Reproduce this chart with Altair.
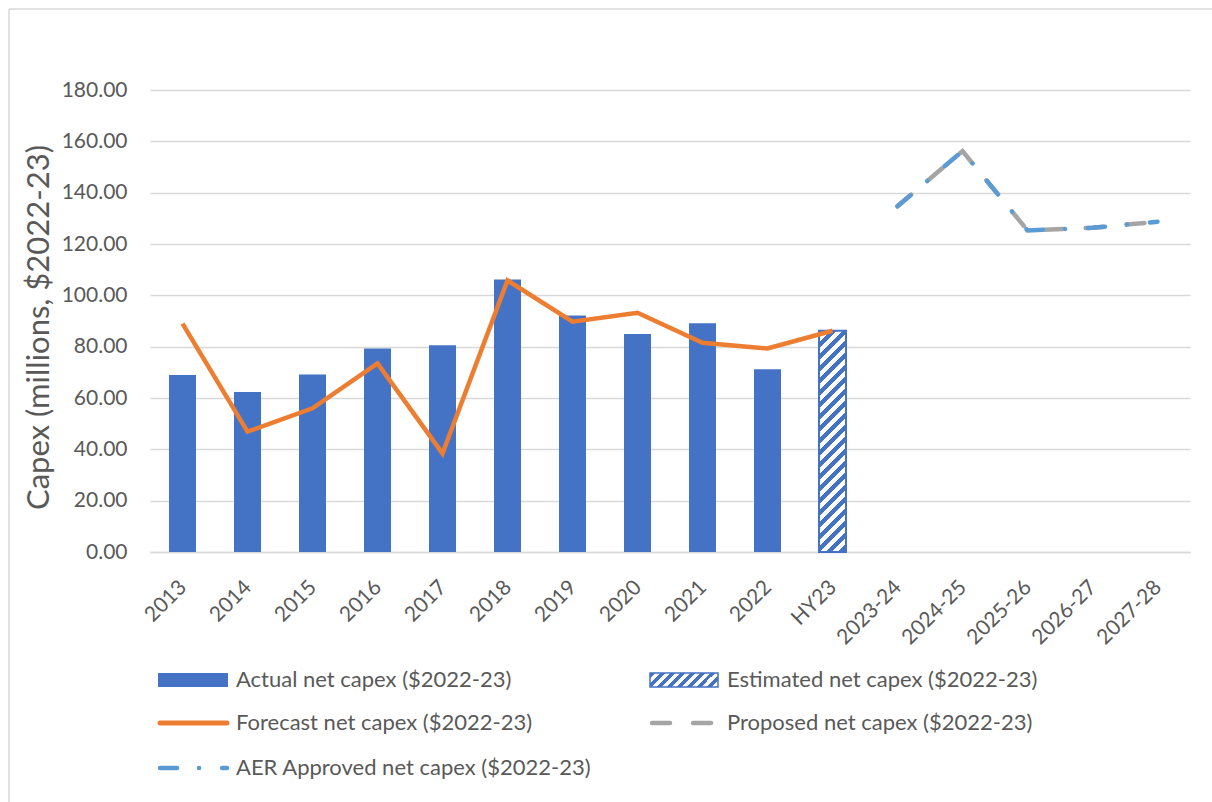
import altair as alt
import pandas as pd

# ---- data -------------------------------------------------------------
categories = ["2013", "2014", "2015", "2016", "2017", "2018", "2019", "2020",
              "2021", "2022", "HY23", "2023-24", "2024-25", "2025-26",
              "2026-27", "2027-28"]

actual_years = ["2013", "2014", "2015", "2016", "2017", "2018", "2019",
                "2020", "2021", "2022"]
actual_capex = [69.0, 62.3, 69.2, 79.3, 80.6, 106.2, 92.1, 84.9, 89.1, 71.2]

estimated_years = ["HY23"]
estimated_capex = [86.2]

forecast_years = actual_years + estimated_years
forecast_capex = [89.0, 46.9, 56.0, 73.5, 38.4, 105.8, 89.7, 93.2, 81.5,
                  79.3, 86.2]

period_years = ["2023-24", "2024-25", "2025-26", "2026-27", "2027-28"]
proposed_capex = [134.7, 156.2, 125.3, 126.3, 128.7]
approved_capex = [134.7, 156.2, 125.3, 126.3, 128.7]

legend_labels = ["Actual net capex ($2022-23)",
                 "Estimated net capex ($2022-23)",
                 "Forecast net capex ($2022-23)",
                 "Proposed net capex ($2022-23)",
                 "AER Approved net capex ($2022-23)"]

# ---- styling ----------------------------------------------------------
W, H = 1040, 462
Y_MAX = 180
FONT = "Lato"
TEXT = "#595959"
GRID = "#D9D9D9"
BLUE = "#4472C4"
ORANGE = "#ED7D31"
GREY = "#A5A5A5"
LIGHT_BLUE = "#5B9BD5"
PAD_INNER = 0.585
STEP = W / len(categories)
BANDWIDTH = STEP * (1 - PAD_INNER)


def hatch(w, h, period, frac, c1, c2):
    """Diagonal '/' stripes as a hard-stop linear gradient over a w x h box."""
    r = w / h
    dy = (1 + r) / (1 + r * r)
    dx = r * dy
    n = (w + h) / period
    stops = []
    k = 0
    while k < n:
        a = k / n
        b = min((k + frac) / n, 1.0)
        c = min((k + 1) / n, 1.0)
        stops += [alt.GradientStop(offset=a, color=c1),
                  alt.GradientStop(offset=b, color=c1),
                  alt.GradientStop(offset=b, color=c2),
                  alt.GradientStop(offset=c, color=c2)]
        k += 1
    return alt.Gradient(gradient="linear", x1=0, y1=0, x2=dx, y2=dy,
                        stops=stops)


x_scale = alt.Scale(domain=categories, paddingInner=PAD_INNER,
                    paddingOuter=PAD_INNER / 2)
y_scale = alt.Scale(domain=[0, Y_MAX], nice=False)

x_enc = alt.X("cat:N", scale=x_scale, sort=categories,
              axis=alt.Axis(title=None, labelAngle=-45, labelFontSize=21,
                            labelColor=TEXT, labelFont=FONT, ticks=False,
                            grid=False, domainColor=GRID, domainWidth=1.5,
                            labelPadding=24, labelOffset=-7))
y_axis = alt.Axis(title="Capex (millions, $2022-23)", values=list(range(0, 181, 20)),
                  format=".2f", labelFontSize=21, labelColor=TEXT,
                  labelFont=FONT, titleFont=FONT, titleFontSize=31,
                  titleColor=TEXT, titleFontWeight="normal", domain=False,
                  ticks=False, gridColor=GRID, gridWidth=1.5,
                  labelPadding=23, titlePadding=6, titleY=237)

actual_df = pd.DataFrame({"cat": actual_years, "v": actual_capex})
est_df = pd.DataFrame({"cat": estimated_years, "v": estimated_capex})
fc_df = pd.DataFrame({"cat": forecast_years, "v": forecast_capex})
prop_df = pd.DataFrame({"cat": period_years, "v": proposed_capex})
appr_df = pd.DataFrame({"cat": period_years, "v": approved_capex})

bars = alt.Chart(actual_df).mark_bar(color=BLUE).encode(
    x=x_enc, y=alt.Y("v:Q", scale=y_scale, axis=y_axis))

est_h = estimated_capex[0] / Y_MAX * H
est_bar = alt.Chart(est_df).mark_bar(
    fill=hatch(BANDWIDTH, est_h, 12, 0.45, BLUE, "#FFFFFF"),
    stroke=BLUE, strokeWidth=2).encode(
    x=alt.X("cat:N", scale=x_scale, sort=categories),
    y=alt.Y("v:Q", scale=y_scale))

forecast = alt.Chart(fc_df).mark_line(color=ORANGE, strokeWidth=4.5).encode(
    x=alt.X("cat:N", scale=x_scale, sort=categories),
    y=alt.Y("v:Q", scale=y_scale))

proposed = alt.Chart(prop_df).mark_line(
    color=GREY, strokeWidth=4.5, strokeCap="round",
    strokeDash=[18, 23]).encode(
    x=alt.X("cat:N", scale=x_scale, sort=categories),
    y=alt.Y("v:Q", scale=y_scale))

approved = alt.Chart(appr_df).mark_line(
    color=LIGHT_BLUE, strokeWidth=4.5, strokeCap="round",
    strokeDash=[17, 22, 0.1, 23]).encode(
    x=alt.X("cat:N", scale=x_scale, sort=categories),
    y=alt.Y("v:Q", scale=y_scale))

# ---- legend (drawn in pixel space below the axis) -----------------------
def one(label):
    return pd.DataFrame({"label": [label]})

ROW = [590, 633, 678]
COL_SYM = [8, 500]
COL_TXT = [86, 577]

def legend_text(label, col, row):
    return alt.Chart(one(label)).mark_text(
        align="left", baseline="middle", font=FONT, fontSize=22,
        color=TEXT).encode(
        x=alt.value(COL_TXT[col]), y=alt.value(ROW[row]), text="label:N")

leg_actual = alt.Chart(one(legend_labels[0])).mark_rect(color=BLUE).encode(
    x=alt.value(COL_SYM[0]), x2=alt.value(COL_SYM[0] + 70),
    y=alt.value(ROW[0] - 7), y2=alt.value(ROW[0] + 7))
leg_est = alt.Chart(one(legend_labels[1])).mark_rect(
    fill=hatch(68, 14, 10, 0.5, BLUE, "#FFFFFF"), stroke=BLUE,
    strokeWidth=1.5).encode(
    x=alt.value(COL_SYM[1]), x2=alt.value(COL_SYM[1] + 68),
    y=alt.value(ROW[0] - 7), y2=alt.value(ROW[0] + 7))
leg_fc = alt.Chart(one(legend_labels[2])).mark_rule(
    color=ORANGE, strokeWidth=5, strokeCap="round").encode(
    x=alt.value(COL_SYM[0] + 2), x2=alt.value(COL_SYM[0] + 69),
    y=alt.value(ROW[1]))
leg_prop = alt.Chart(one(legend_labels[3])).mark_rule(
    color=GREY, strokeWidth=4.5, strokeCap="round",
    strokeDash=[18, 23]).encode(
    x=alt.value(COL_SYM[1] + 2), x2=alt.value(COL_SYM[1] + 66),
    y=alt.value(ROW[1]))
leg_appr = alt.Chart(one(legend_labels[4])).mark_rule(
    color=LIGHT_BLUE, strokeWidth=4.5, strokeCap="round",
    strokeDash=[17, 22, 0.1, 23]).encode(
    x=alt.value(COL_SYM[0] + 2), x2=alt.value(COL_SYM[0] + 69),
    y=alt.value(ROW[2]))

legend = [leg_actual, leg_est, leg_fc, leg_prop, leg_appr,
          legend_text(legend_labels[0], 0, 0),
          legend_text(legend_labels[1], 1, 0),
          legend_text(legend_labels[2], 0, 1),
          legend_text(legend_labels[3], 1, 1),
          legend_text(legend_labels[4], 0, 2)]

# ---- chart frame (left and top edges) ----------------------------------
frame_left = alt.Chart(one("frame")).mark_rule(color=GRID, strokeWidth=1.5).encode(
    x=alt.value(-141), y=alt.value(-81), y2=alt.value(712))
frame_top = alt.Chart(one("frame")).mark_rule(color=GRID, strokeWidth=1.5).encode(
    x=alt.value(-141), x2=alt.value(1062), y=alt.value(-81))

chart = alt.layer(
    bars, est_bar, forecast, proposed, approved, *legend, frame_left, frame_top
).properties(
    width=W, height=H,
    autosize=alt.AutoSizeParams(type="none"),
    padding={"left": 150, "top": 90, "right": 22, "bottom": 250},
    background="white",
).configure_view(strokeWidth=0)

chart.save("out.html", embed_options={"renderer": "svg", "actions": False})
